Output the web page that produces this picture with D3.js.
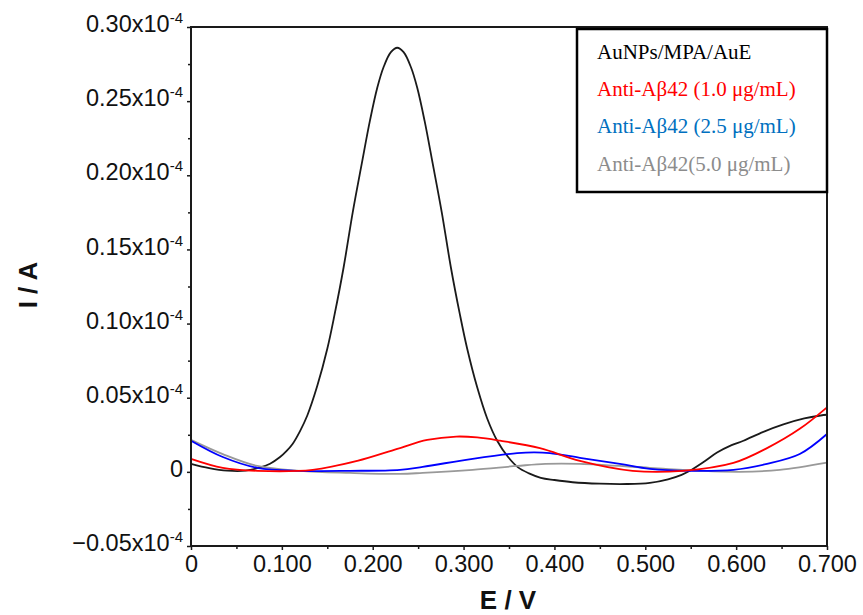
<!DOCTYPE html>
<html>
<head>
<meta charset="utf-8">
<script src="https://cdn.jsdelivr.net/npm/d3@7"></script>
<style>
  body { margin: 0; background: #fff; }
  svg { display: block; }
  .axis text { font-family: "Liberation Sans", Arial, sans-serif; fill: #111; }
</style>
</head>
<body>
<div id="chart"></div>
<script>
// potential (V) vs current (x10^-4 A)
const seriesAuE = [
  [0, 0.0054], [0.02, 0.0025], [0.04, 0.0008], [0.06, 0.0008], [0.075, 0.0028],
  [0.087, 0.0055], [0.098, 0.010], [0.105, 0.014], [0.112, 0.019], [0.120, 0.0275],
  [0.128, 0.038], [0.139, 0.058], [0.150, 0.083], [0.158, 0.106], [0.168, 0.138],
  [0.178, 0.175], [0.188, 0.208], [0.197, 0.237], [0.205, 0.259], [0.212, 0.273],
  [0.220, 0.283], [0.227, 0.286], [0.234, 0.283], [0.242, 0.273], [0.249, 0.259],
  [0.257, 0.237], [0.266, 0.208], [0.276, 0.175], [0.286, 0.138], [0.296, 0.106],
  [0.304, 0.083], [0.315, 0.057], [0.326, 0.036], [0.337, 0.021], [0.349, 0.010],
  [0.360, 0.003], [0.372, -0.001], [0.385, -0.004], [0.400, -0.0055], [0.420, -0.007],
  [0.450, -0.008], [0.480, -0.0082], [0.505, -0.0074], [0.525, -0.005], [0.540, -0.002],
  [0.549, 0.0007], [0.565, 0.007], [0.579, 0.013], [0.595, 0.018], [0.608, 0.021],
  [0.630, 0.027], [0.652, 0.032], [0.675, 0.036], [0.693, 0.038], [0.700, 0.0385]
];
const series10 = [
  [0, 0.0088], [0.035, 0.0027], [0.073, 0.0007], [0.134, 0.0014], [0.183, 0.0074],
  [0.227, 0.0155], [0.260, 0.0215], [0.292, 0.0238], [0.315, 0.0232], [0.340, 0.021],
  [0.384, 0.016], [0.428, 0.0074], [0.486, 0.0007], [0.541, 0.0007], [0.597, 0.006],
  [0.634, 0.016], [0.670, 0.029], [0.700, 0.0435]
];
const series25 = [
  [0, 0.021], [0.035, 0.010], [0.073, 0.0027], [0.120, 0.0007], [0.175, 0.0007],
  [0.230, 0.0014], [0.255, 0.0034], [0.310, 0.0088], [0.359, 0.0126], [0.378, 0.0131],
  [0.395, 0.0126], [0.428, 0.0095], [0.472, 0.0054], [0.505, 0.002], [0.549, 0.0007],
  [0.597, 0.0014], [0.634, 0.0054], [0.670, 0.012], [0.700, 0.0255]
];
const series50 = [
  [0, 0.0216], [0.035, 0.012], [0.073, 0.004], [0.120, 0.0007], [0.175, -0.0007],
  [0.230, -0.0014], [0.255, -0.0007], [0.310, 0.0014], [0.359, 0.004], [0.390, 0.0054],
  [0.428, 0.0054], [0.505, 0.0027], [0.560, 0.0007], [0.604, 0], [0.648, 0.0014],
  [0.700, 0.0063]
];

const legendLabels = ["AuNPs/MPA/AuE", "Anti-A\u03B242 (1.0 \u03BCg/mL)", "Anti-A\u03B242 (2.5 \u03BCg/mL)", "Anti-A\u03B242(5.0 \u03BCg/mL)"];
const legendColors = ["#000000", "#ff0000", "#0070c0", "#8c8c8c"];
const lineColors = ["#1a1a1a", "#ff0000", "#0000ff", "#999999"];

const xTicks = [0, 0.1, 0.2, 0.3, 0.4, 0.5, 0.6, 0.7];
const xMinor = [0.05, 0.15, 0.25, 0.35, 0.45, 0.55, 0.65];
const yTicks = [-0.05, 0, 0.05, 0.10, 0.15, 0.20, 0.25, 0.30];
const yMinor = [-0.025, 0.025, 0.075, 0.125, 0.175, 0.225, 0.275];

const W = 863, H = 615;
const plot = {left: 191, right: 827, top: 27, bottom: 546};

const svg = d3.select("#chart").append("svg")
  .attr("width", W)
  .attr("height", H);

const x = d3.scaleLinear().domain([0, 0.7]).range([plot.left, plot.right]);
const y = d3.scaleLinear().domain([-0.05, 0.30]).range([plot.bottom, plot.top]);

// curves
const line = d3.line()
  .x(d => x(d[0]))
  .y(d => y(d[1]))
  .curve(d3.curveCatmullRom.alpha(0.5));

const allSeries = [seriesAuE, series50, series25, series10];
const seriesColors = [lineColors[0], lineColors[3], lineColors[2], lineColors[1]];

svg.append("g")
  .selectAll("path")
  .data(allSeries)
  .enter()
  .append("path")
  .attr("d", line)
  .attr("fill", "none")
  .attr("stroke", (d, i) => seriesColors[i])
  .attr("stroke-width", 1.8);

// frame
svg.append("rect")
  .attr("x", plot.left)
  .attr("y", plot.top)
  .attr("width", plot.right - plot.left)
  .attr("height", plot.bottom - plot.top)
  .attr("fill", "none")
  .attr("stroke", "#1a1a1a")
  .attr("stroke-width", 2);

// x axis
const xAxis = svg.append("g")
  .attr("class", "axis")
  .attr("transform", `translate(0,${plot.bottom})`)
  .call(d3.axisBottom(x)
    .tickValues(xTicks)
    .tickSize(4)
    .tickPadding(5)
    .tickFormat(d => d === 0 ? "0" : d3.format(".3f")(d)));
xAxis.select(".domain").remove();
xAxis.selectAll("line").attr("stroke", "#1a1a1a").attr("stroke-width", 1.5);
xAxis.selectAll("text").attr("font-size", 23.5);

const xMinorAxis = svg.append("g")
  .attr("transform", `translate(0,${plot.bottom})`)
  .call(d3.axisBottom(x).tickValues(xMinor).tickSize(3).tickFormat(""));
xMinorAxis.select(".domain").remove();
xMinorAxis.selectAll("line").attr("stroke", "#1a1a1a").attr("stroke-width", 1.5);

// y axis
const yAxis = svg.append("g")
  .attr("class", "axis")
  .attr("transform", `translate(${plot.left},0)`)
  .call(d3.axisLeft(y)
    .tickValues(yTicks)
    .tickSize(4)
    .tickPadding(4));
yAxis.select(".domain").remove();
yAxis.selectAll("line").attr("stroke", "#1a1a1a").attr("stroke-width", 1.5);
yAxis.selectAll("text")
  .attr("font-size", 23.5)
  .attr("dy", "0.2em")
  .each(function(d) {
    const t = d3.select(this);
    t.text(null);
    if (Math.abs(d) < 1e-9) {
      t.text("0");
      return;
    }
    t.append("tspan").text(d3.format(".2f")(d) + "x10");
    t.append("tspan")
      .attr("dy", -9)
      .attr("font-size", 15)
      .text("-4");
  });

const yMinorAxis = svg.append("g")
  .attr("transform", `translate(${plot.left},0)`)
  .call(d3.axisLeft(y).tickValues(yMinor).tickSize(3).tickFormat(""));
yMinorAxis.select(".domain").remove();
yMinorAxis.selectAll("line").attr("stroke", "#1a1a1a").attr("stroke-width", 1.5);

// axis titles
svg.append("text")
  .attr("x", 508)
  .attr("y", 609)
  .attr("text-anchor", "middle")
  .attr("font-family", "Liberation Sans, Arial, sans-serif")
  .attr("font-weight", "bold")
  .attr("font-size", 26)
  .attr("fill", "#111")
  .text("E / V");

svg.append("text")
  .attr("transform", "translate(37,285) rotate(-90)")
  .attr("text-anchor", "middle")
  .attr("font-family", "Liberation Sans, Arial, sans-serif")
  .attr("font-weight", "bold")
  .attr("font-size", 26)
  .attr("fill", "#111")
  .text("I / A");

// legend
const legend = svg.append("g");
legend.append("rect")
  .attr("x", 577)
  .attr("y", 29)
  .attr("width", 250)
  .attr("height", 163)
  .attr("fill", "#fff")
  .attr("stroke", "#000")
  .attr("stroke-width", 2.5);

legend.selectAll("text")
  .data(legendLabels)
  .enter()
  .append("text")
  .attr("x", 597)
  .attr("y", (d, i) => 59 + i * 37.2)
  .attr("font-family", "Liberation Serif, Times New Roman, serif")
  .attr("font-size", 21)
  .attr("fill", (d, i) => legendColors[i])
  .text(d => d);
</script>
</body>
</html>
